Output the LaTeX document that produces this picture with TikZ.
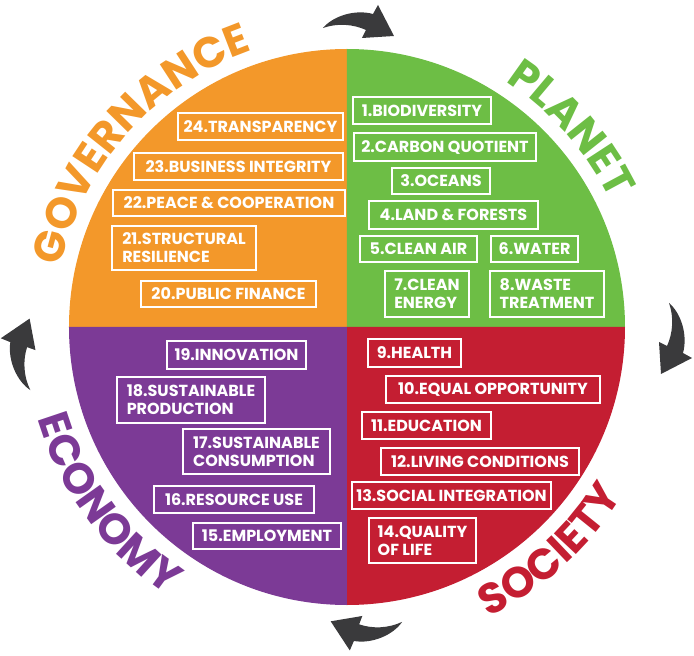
\documentclass[tikz,border=0pt]{standalone}
\usepackage{fontspec}
\setmainfont{Poppins}
\usetikzlibrary{decorations.text}

\definecolor{govorange}{RGB}{243,152,42}
\definecolor{planetgreen}{RGB}{109,190,69}
\definecolor{societyred}{RGB}{196,30,50}
\definecolor{economypurple}{RGB}{124,58,150}
\definecolor{arrowgray}{RGB}{58,58,60}

\newcommand\pillarfont{\bfseries\fontsize{43}{43}\selectfont}
\newcommand\cyclearrow[2]{%
  \begin{scope}[rotate=#1, yshift=#2]
    \fill[arrowgray] (-24,299) .. controls (-14,311) and (8,318) .. (26,313)
      -- (31,322) -- (47,291) -- (15,289) -- (19,297)
      .. controls (6,303) and (-10,304) .. cycle;
  \end{scope}}

\tikzset{
  goal/.style={draw=white, line width=1.4pt, text=white,
    font=\bfseries\fontsize{16}{18}\selectfont,
    inner xsep=2pt, inner ysep=1pt, align=left},
}

\begin{document}
\begin{tikzpicture}[x=1pt, y=1pt]
  \useasboundingbox (-347,-329) rectangle (347,327);
  % the four quarters
  \fill[govorange] (0,0) -- (180:278) arc[start angle=180, end angle=90, radius=278] -- cycle;
  \fill[planetgreen] (0,0) -- (90:278) arc[start angle=90, end angle=0, radius=278] -- cycle;
  \fill[societyred] (0,0) -- (0:278) arc[start angle=0, end angle=-90, radius=278] -- cycle;
  \fill[economypurple] (0,0) -- (-90:278) arc[start angle=-90, end angle=-180, radius=278] -- cycle;

  % names round the rim
  \path[decorate, decoration={text along path, text align=center, text color=govorange,
    text={|\pillarfont|GOVERNANCE}}] (178.5:292) arc[start angle=178.5, end angle=98.5, radius=292];
  \path[decorate, decoration={text along path, text align=center, text color=planetgreen,
    text={|\pillarfont|PLANET}}] (81.5:292) arc[start angle=81.5, end angle=1.5, radius=292];
  \path[decorate, decoration={text along path, text align=center, text color=societyred,
    text={|\pillarfont|SOCIETY}}] (272.3:323) arc[start angle=272.3, end angle=352.3, radius=323];
  \path[decorate, decoration={text along path, text align=center, text color=economypurple,
    text={|\pillarfont|ECONOMY}}] (176.4:323) arc[start angle=176.4, end angle=256.4, radius=323];

  % arrows, clockwise
  \cyclearrow{0}{0pt}
  \cyclearrow{-90}{23pt}
  \cyclearrow{186}{0pt}
  \cyclearrow{97}{23pt}

  % planet
  \node[goal, minimum width=138pt, minimum height=27pt] (biodiversity) at (75,216.5) {1.BIODIVERSITY};
  \node[goal, minimum width=182pt, minimum height=28pt] (carbon) at (98,180) {2.CARBON QUOTIENT};
  \node[goal, minimum width=98pt, minimum height=26pt] (oceans) at (94,146) {3.OCEANS};
  \node[goal, minimum width=169pt, minimum height=28pt] (land) at (106.5,112) {4.LAND \& FORESTS};
  \node[goal, minimum width=117pt, minimum height=26pt] (air) at (71.5,78) {5.CLEAN AIR};
  \node[goal, minimum width=87pt, minimum height=26pt] (water) at (187.5,78) {6.WATER};
  \node[goal, minimum width=84pt, minimum height=46pt] (energy) at (80,33) {7.CLEAN\\ENERGY};
  \node[goal, minimum width=114pt, minimum height=46pt] (waste) at (200,33) {8.WASTE\\TREATMENT};

  % society
  \node[goal, minimum width=93pt, minimum height=28pt] (health) at (67.5,-26) {9.HEALTH};
  \node[goal, minimum width=214pt, minimum height=27pt] (equal) at (146,-62.5) {10.EQUAL OPPORTUNITY};
  \node[goal, minimum width=129pt, minimum height=27pt] (education) at (79.5,-98.5) {11.EDUCATION};
  \node[goal, minimum width=198pt, minimum height=27pt] (living) at (133,-134.5) {12.LIVING CONDITIONS};
  \node[goal, minimum width=199pt, minimum height=27pt] (integration) at (104.5,-168.5) {13.SOCIAL INTEGRATION};
  \node[goal, minimum width=107pt, minimum height=45pt] (quality) at (75.5,-213.5) {14.QUALITY\\OF LIFE};

  % economy
  \node[goal, minimum width=148pt, minimum height=26pt] (employment) at (-80,-209) {15.EMPLOYMENT};
  \node[goal, minimum width=160pt, minimum height=27pt] (resource) at (-113,-172.5) {16.RESOURCE USE};
  \node[goal, minimum width=147pt, minimum height=45pt] (consumption) at (-90.5,-124.5) {17.SUSTAINABLE\\CONSUMPTION};
  \node[goal, minimum width=148pt, minimum height=46pt] (production) at (-156,-73) {18.SUSTAINABLE\\PRODUCTION};
  \node[goal, minimum width=139pt, minimum height=28pt] (innovation) at (-110.5,-28) {19.INNOVATION};

  % governance
  \node[goal, minimum width=175pt, minimum height=26pt] (finance) at (-118.5,33) {20.PUBLIC FINANCE};
  \node[goal, minimum width=144pt, minimum height=44pt] (resilience) at (-163,79) {21.STRUCTURAL\\RESILIENCE};
  \node[goal, minimum width=232pt, minimum height=26pt] (peace) at (-118,124) {22.PEACE \& COOPERATION};
  \node[goal, minimum width=209pt, minimum height=27pt] (integrity) at (-108.5,160.5) {23.BUSINESS INTEGRITY};
  \node[goal, minimum width=165pt, minimum height=27pt] (transparency) at (-86.5,200.5) {24.TRANSPARENCY};
\end{tikzpicture}
\end{document}
